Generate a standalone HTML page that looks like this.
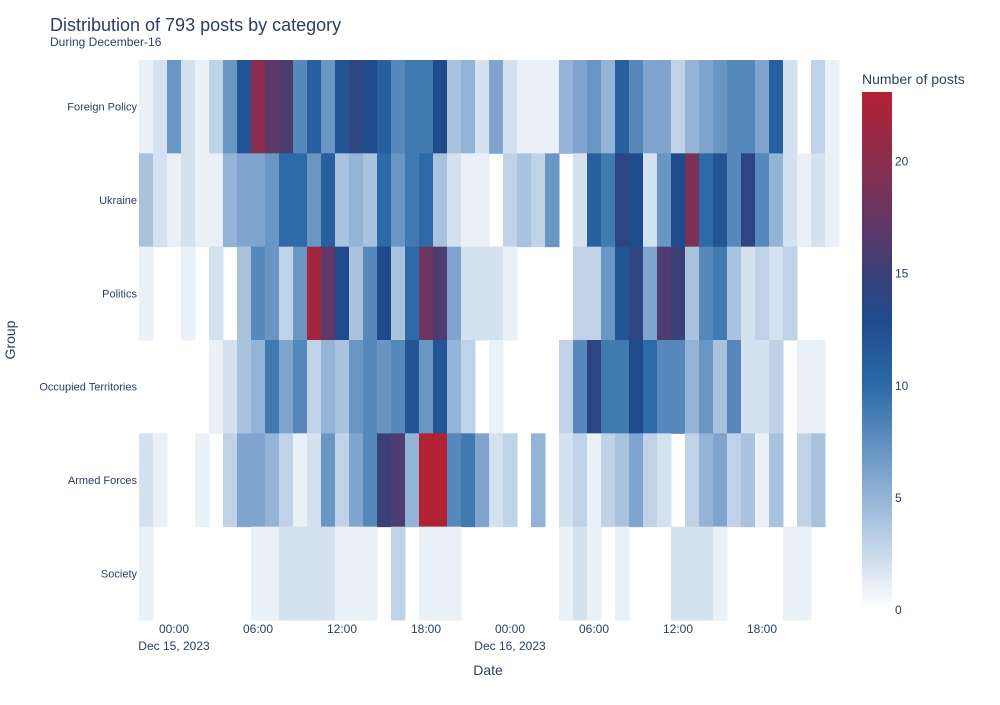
<!DOCTYPE html>
<html><head><meta charset="utf-8"><style>
body{margin:0;background:#fff;font-family:"Liberation Sans",sans-serif;}
svg text{font-family:"Liberation Sans",sans-serif;fill:#2a3f5f;}
</style></head><body>
<svg id="chart" width="1000" height="700">
<text x="50" y="31" font-size="18">Distribution of 793 posts by category</text>
<text x="50" y="46" font-size="12">During December-16</text>
<g id="cells"></g>
<g id="yticks"></g>
<g id="xticks"></g>
<text x="488" y="675" font-size="14" text-anchor="middle">Date</text>
<text x="0" y="0" font-size="14" text-anchor="middle" transform="translate(15,340) rotate(-90)">Group</text>
<text x="862" y="84" font-size="14">Number of posts</text>
<defs><linearGradient id="cbg" x1="0" y1="1" x2="0" y2="0"></linearGradient></defs>
<rect x="862" y="92" width="30" height="518" fill="url(#cbg)"></rect>
<g id="cbticks"></g>
</svg>
<script>
const groups = ["Foreign Policy","Ukraine","Politics","Occupied Territories","Armed Forces","Society"];
const foreignPolicy = [1,2,7,2,1,3,7,12,20,17,16,8,11,7,12,14,13,11,8,9,9,13,4,5,2,6,2,1,1,1,5,6,7,5,11,8,6,6,3,5,6,7,8,8,6,11,2,0,3,1];
const ukraine = [4,2,1,2,1,1,5,6,6,7,10,10,7,11,4,5,4,10,7,9,10,4,2,1,1,0,3,4,3,7,0,2,11,9,14,13,2,7,13,19,10,12,8,14,8,5,2,1,2,1];
const politics = [1,0,0,1,0,2,0,4,8,7,3,7,22,17,13,4,8,13,4,10,18,16,6,2,2,2,1,0,0,0,0,3,3,7,12,14,6,16,15,4,8,9,4,2,3,2,3,0,0,0];
const occupied = [0,0,0,0,0,1,2,4,5,9,6,8,3,5,4,7,8,7,8,12,7,12,5,3,0,1,0,0,0,0,3,8,14,9,9,13,10,8,8,5,7,4,8,2,2,3,0,1,1,0];
const armedForces = [2,1,0,0,1,0,3,6,6,5,3,1,2,7,3,6,8,15,16,5,23,23,8,9,6,2,3,0,5,0,2,3,1,3,4,6,3,2,0,3,5,6,3,4,1,4,0,3,4,0];
const society = [1,0,0,0,0,0,0,0,1,1,2,2,2,2,1,1,1,0,3,0,1,1,1,0,0,0,0,0,0,0,1,2,1,0,1,0,0,0,2,2,2,1,0,0,0,0,1,1,0,0];
const series = [foreignPolicy,ukraine,politics,occupied,armedForces,society];
const startHour = -2; // 22:00 Dec 14
const xTickHours = [0,6,12,18,24,30,36,42];
const xTickLabels = ["00:00","06:00","12:00","18:00","00:00","06:00","12:00","18:00"];
const xTickDates = ["Dec 15, 2023","","","","Dec 16, 2023","","",""];
const cbTicks = [0,5,10,15,20];
const zmax = 23.1;
const stops = [[0,[255,255,255]],[5,[148,180,215]],[10,[44,106,168]],[13,[31,74,140]],[15,[59,63,120]],[17,[94,56,104]],[20,[138,45,76]],[23.1,[178,34,52]]];
function color(v){
  for(let i=1;i<stops.length;i++){ if(v<=stops[i][0]){const a=stops[i-1],b=stops[i];const t=(v-a[0])/(b[0]-a[0]);const c=a[1].map((x,j)=>Math.round(x+(b[1][j]-x)*t));return `rgb(${c})`;}}
  return "rgb(178,34,52)";
}
const NS="http://www.w3.org/2000/svg";
const x0=139, y0=60, plotH=560, hourW=14;
const xs = h => 174 + h*hourW; // center position of hour
const rowH = plotH/groups.length;
const ys = i => y0 + i*rowH;
const cells=document.getElementById('cells');
series.forEach((arr,r)=>{arr.forEach((v,c)=>{
  if(v<=0) return;
  const rc=document.createElementNS(NS,'rect');
  const h=startHour+c;
  rc.setAttribute('x',xs(h)-hourW/2);rc.setAttribute('y',ys(r));
  rc.setAttribute('width',hourW+0.5);rc.setAttribute('height',rowH+0.5);
  rc.setAttribute('fill',color(v));
  
  
  cells.appendChild(rc);
});});
const yt=document.getElementById('yticks');
groups.forEach((g,i)=>{const t=document.createElementNS(NS,'text');
  t.setAttribute('x',137);t.setAttribute('y',ys(i)+rowH/2+4);t.setAttribute('font-size','11');t.setAttribute('text-anchor','end');t.textContent=g;
  
  
  yt.appendChild(t);});
const xt=document.getElementById('xticks');
xTickHours.forEach((h,i)=>{const t=document.createElementNS(NS,'text');
  t.setAttribute('x',xs(h));t.setAttribute('y',633);t.setAttribute('font-size','12');t.setAttribute('text-anchor','middle');t.textContent=xTickLabels[i];
  
  
  xt.appendChild(t);
  if(xTickDates[i]){const d=document.createElementNS(NS,'text');
  d.setAttribute('x',xs(h));d.setAttribute('y',650);d.setAttribute('font-size','12');d.setAttribute('text-anchor','middle');d.textContent=xTickDates[i];
  
  
  xt.appendChild(d);}
});
const g=document.getElementById('cbg');
stops.forEach(s=>{const st=document.createElementNS(NS,'stop');st.setAttribute('offset',s[0]/zmax);st.setAttribute('stop-color',`rgb(${s[1]})`);g.appendChild(st);});
const cbY = v => 610 - v*(518/zmax);
const cbt=document.getElementById('cbticks');
cbTicks.forEach(v=>{const t=document.createElementNS(NS,'text');
  t.setAttribute('x',895);t.setAttribute('y',cbY(v)+4);t.setAttribute('font-size','12');t.textContent=v;
  
  
  cbt.appendChild(t);});
</script>
</body></html>
